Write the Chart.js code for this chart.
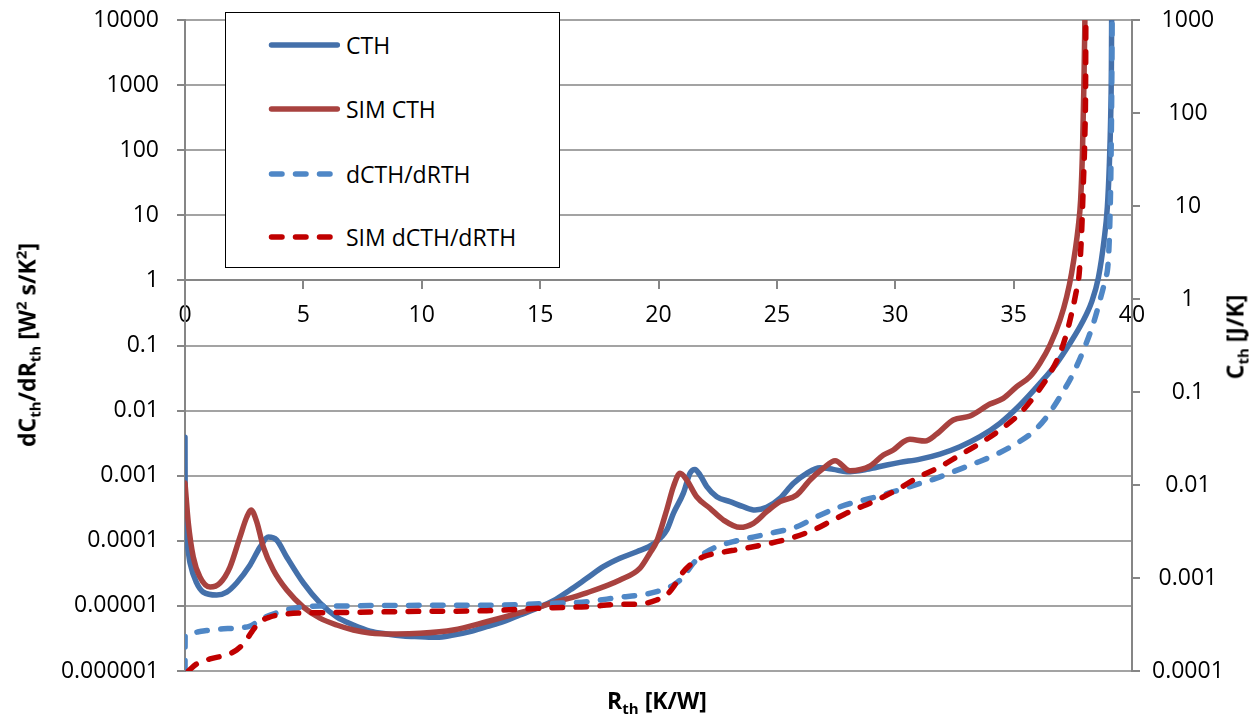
<!DOCTYPE html>
<html>
<head>
<meta charset="utf-8">
<script src="https://cdn.jsdelivr.net/npm/chart.js@4.4.1/dist/chart.umd.min.js"></script>
<style>
html,body{margin:0;padding:0;background:#fff;}
#wrap{position:relative;width:1254px;height:723px;overflow:hidden;font-family:'Open Sans',sans-serif;}
#c{position:absolute;left:0;top:0;}
.title{position:absolute;font-weight:bold;font-size:23px;white-space:nowrap;color:#000;line-height:1;}
.title .sb{font-size:15px;position:relative;top:5px;}
.title .sp{font-size:15px;position:relative;top:-9px;}
#legend{position:absolute;left:225px;top:12px;width:335px;height:256px;box-sizing:border-box;border:1.5px solid #000;background:#fff;}
.entry{position:absolute;left:40px;height:28px;display:flex;align-items:center;font-size:23px;color:#000;white-space:nowrap;}
.entry svg{margin-right:4px;}
</style>
</head>
<body>
<div id="wrap">
<canvas id="c" width="1254" height="723"></canvas>
<div id="legend"></div>
<div class="title" id="ytitle" style="left:27px;top:345px;transform:translate(-50%,-50%) rotate(-90deg);">dC<span class="sb">th</span>/dR<span class="sb">th</span> [W<span class="sp">2</span> s/K<span class="sp">2</span>]</div>
<div class="title" id="y2title" style="left:1235px;top:337px;transform:translate(-50%,-50%) rotate(-90deg);">C<span class="sb">th</span> [J/K]</div>
<div class="title" id="xtitle" style="left:657px;top:700px;transform:translate(-50%,-50%);">R<span class="sb">th</span> [K/W]</div>
</div>
<script>
// ---- axis ticks ----
const xTickValues = [0, 5, 10, 15, 20, 25, 30, 35, 40];
const xTickLabels = ['0', '5', '10', '15', '20', '25', '30', '35', '40'];
const leftTickValues = [1e-6, 1e-5, 1e-4, 1e-3, 1e-2, 1e-1, 1, 10, 100, 1000, 10000];
const leftTickLabels = ['0.000001', '0.00001', '0.0001', '0.001', '0.01', '0.1', '1', '10', '100', '1000', '10000'];
const rightTickValues = [1e-4, 1e-3, 1e-2, 1e-1, 1, 10, 100, 1000];
const rightTickLabels = ['0.0001', '0.001', '0.01', '0.1', '1', '10', '100', '1000'];

// ---- series labels ----
const seriesLabels = ['CTH', 'SIM CTH', 'dCTH/dRTH', 'SIM dCTH/dRTH'];

// ---- CTH (solid blue, left axis) ----
const cthX = [0, 0.01, 0.07, 0.21, 0.49, 0.77, 1.34, 1.76, 2.18, 2.75, 3.17, 3.52, 3.87, 4.30, 5.00, 5.70, 6.41, 7.11, 7.81, 8.52, 9.22, 9.93, 10.63, 11.33, 12.04, 12.74, 13.44, 14.15, 14.86, 15.56, 16.26, 16.97, 17.67, 18.37, 19.08, 19.78, 20.35, 20.63, 21.05, 21.33, 21.54, 21.75, 22.04, 22.46, 23.02, 23.58, 24.08, 24.57, 25.13, 25.69, 26.26, 26.82, 27.38, 27.95, 28.79, 29.64, 30.20, 31.05, 31.89, 32.73, 33.58, 34.42, 35.27, 36.11, 36.82, 37.38, 37.88, 38.30, 38.58, 38.82, 38.96, 39.04, 39.10, 39.13, 39.14];
const cthY = [3.9e-3, 2.7e-4, 1.0e-4, 4.6e-5, 2.25e-5, 1.63e-5, 1.47e-5, 1.63e-5, 2.25e-5, 4.25e-5, 8.0e-5, 1.14e-4, 1.03e-4, 5.6e-5, 2.25e-5, 1.11e-5, 6.75e-6, 5.09e-6, 4.11e-6, 3.70e-6, 3.45e-6, 3.37e-6, 3.30e-6, 3.57e-6, 4.02e-6, 4.79e-6, 5.71e-6, 7.24e-6, 9.18e-6, 1.20e-5, 1.75e-5, 2.65e-5, 4.00e-5, 5.38e-5, 6.80e-5, 8.93e-5, 1.47e-4, 2.64e-4, 5.4e-4, 1.09e-3, 1.25e-3, 1.03e-3, 6.8e-4, 4.75e-4, 4.0e-4, 3.34e-4, 2.97e-4, 3.27e-4, 4.5e-4, 7.6e-4, 1.09e-3, 1.33e-3, 1.25e-3, 1.15e-3, 1.25e-3, 1.46e-3, 1.6e-3, 1.8e-3, 2.15e-3, 2.79e-3, 3.97e-3, 6.38e-3, 1.22e-2, 2.62e-2, 5.33e-2, 0.108, 0.219, 0.471, 1.1, 4.18, 13.6, 55.8, 327, 1919, 10000];

// ---- SIM CTH (solid red, left axis) ----
const simCthX = [0, 0.14, 0.35, 0.63, 1.06, 1.48, 1.90, 2.32, 2.61, 2.79, 3.03, 3.31, 3.73, 4.30, 5.00, 5.70, 6.41, 7.11, 7.81, 8.94, 9.93, 11.33, 12.74, 14.15, 15.56, 16.97, 18.37, 19.22, 19.64, 19.92, 20.35, 20.63, 20.91, 21.19, 21.61, 22.17, 22.74, 23.44, 24.01, 24.57, 25.13, 25.84, 26.40, 26.96, 27.46, 28.09, 28.94, 29.50, 29.92, 30.34, 30.62, 31.26, 31.75, 32.45, 33.16, 34.00, 34.56, 35.13, 35.69, 36.11, 36.54, 36.96, 37.24, 37.45, 37.73, 37.83, 37.91, 37.97, 38.01];
const simCthY = [7.7e-4, 1.88e-4, 5.64e-5, 2.78e-5, 1.95e-5, 2.25e-5, 3.95e-5, 1.14e-4, 2.32e-4, 2.97e-4, 1.95e-4, 8.0e-5, 3.56e-5, 1.75e-5, 9.6e-6, 6.5e-6, 5.09e-6, 4.27e-6, 3.84e-6, 3.70e-6, 3.79e-6, 4.27e-6, 5.71e-6, 7.87e-6, 1.12e-5, 1.59e-5, 2.50e-5, 3.8e-5, 6.5e-5, 9.7e-5, 3.0e-4, 6.8e-4, 1.09e-3, 8.6e-4, 4.75e-4, 3.16e-4, 2.09e-4, 1.61e-4, 1.86e-4, 2.80e-4, 3.99e-4, 5.05e-4, 8.6e-4, 1.30e-3, 1.70e-3, 1.19e-3, 1.41e-3, 2.08e-3, 2.48e-3, 3.3e-3, 3.62e-3, 3.41e-3, 4.37e-3, 7.18e-3, 8.26e-3, 1.26e-2, 1.54e-2, 2.33e-2, 3.32e-2, 5.33e-2, 0.102, 0.247, 0.56, 1.3, 6.68, 17.2, 101, 1067, 10000];

// ---- dCTH/dRTH (dashed blue, right axis) ----
const dX = [0, 0.005, 0.21, 0.77, 1.48, 2.18, 2.75, 3.31, 3.87, 4.44, 5.00, 5.70, 6.41, 7.81, 9.93, 12.74, 15.56, 16.97, 18.37, 19.22, 19.92, 20.63, 21.05, 21.47, 21.89, 22.46, 23.16, 23.87, 24.85, 25.84, 26.68, 27.67, 28.37, 29.07, 29.92, 31.05, 31.61, 32.45, 33.44, 34.29, 35.13, 35.83, 36.40, 36.96, 37.52, 38.01, 38.37, 38.65, 38.86, 39.0, 39.07, 39.11, 39.14, 39.16];
const dY = [1.0e-4, 2.35e-4, 2.57e-4, 2.69e-4, 2.83e-4, 2.90e-4, 3.05e-4, 3.72e-4, 4.21e-4, 4.65e-4, 4.88e-4, 5.0e-4, 5.0e-4, 5.05e-4, 5.08e-4, 5.1e-4, 5.35e-4, 5.56e-4, 6.2e-4, 6.56e-4, 7.13e-4, 8.41e-4, 1.03e-3, 1.44e-3, 1.81e-3, 2.17e-3, 2.46e-3, 2.71e-3, 3.07e-3, 3.56e-3, 4.56e-3, 5.84e-3, 6.61e-3, 7.30e-3, 8.47e-3, 1.04e-2, 1.15e-2, 1.39e-2, 1.74e-2, 2.15e-2, 2.81e-2, 3.74e-2, 5.42e-2, 8.90e-2, 0.159, 0.307, 0.548, 0.976, 1.6, 2.63, 7.67, 26.5, 138, 1000];

// ---- SIM dCTH/dRTH (dashed red, right axis) ----
const simDX = [0.14, 0.49, 1.06, 1.76, 2.18, 2.53, 2.82, 3.10, 3.59, 4.30, 5.00, 6.41, 7.81, 9.93, 12.74, 15.56, 16.97, 18.37, 19.22, 19.92, 20.35, 20.63, 20.91, 21.33, 21.89, 22.60, 23.44, 24.57, 25.55, 26.54, 27.38, 28.23, 29.07, 29.92, 31.05, 31.89, 32.73, 33.58, 34.42, 35.27, 35.97, 36.54, 36.96, 37.24, 37.45, 37.63, 37.77, 37.87, 37.94, 38.01, 38.04, 38.05];
const simDY = [1.0e-4, 1.19e-4, 1.35e-4, 1.49e-4, 1.68e-4, 2.05e-4, 2.63e-4, 3.28e-4, 3.81e-4, 4.10e-4, 4.21e-4, 4.25e-4, 4.3e-4, 4.38e-4, 4.45e-4, 4.80e-4, 4.91e-4, 5.21e-4, 5.25e-4, 5.80e-4, 6.6e-4, 8.0e-4, 1.05e-3, 1.38e-3, 1.69e-3, 1.87e-3, 2.04e-3, 2.32e-3, 2.67e-3, 3.28e-3, 4.21e-3, 5.38e-3, 6.61e-3, 8.47e-3, 1.24e-2, 1.57e-2, 2.10e-2, 2.81e-2, 3.90e-2, 5.90e-2, 9.69e-2, 0.159, 0.261, 0.428, 0.702, 1.15, 1.89, 5.08, 16.1, 60.5, 208, 1000];

const seriesColors = ['#4470AA', '#A8423F', '#4F87C6', '#C00000'];

function toPts(xs, ys) { return xs.map((x, i) => ({ x: x, y: ys[i] })); }

Chart.defaults.font.family = "'Open Sans', sans-serif";
Chart.defaults.color = '#000';

const axisGray = '#868686';
const gridGray = '#A3A3A3';

function ds(i, xs, ys, axis, dashed, order) {
  return {
    label: seriesLabels[i],
    data: toPts(xs, ys),
    xAxisID: 'x',
    yAxisID: axis,
    borderColor: seriesColors[i],
    backgroundColor: seriesColors[i],
    borderWidth: 5.5,
    borderDash: dashed ? [10.5, 13.5] : [],
    borderCapStyle: 'round',
    borderJoinStyle: 'round',
    pointRadius: 0,
    pointHoverRadius: 0,
    cubicInterpolationMode: 'monotone',
    fill: false,
    order: order
  };
}

const chart = new Chart(document.getElementById('c'), {
  type: 'line',
  data: {
    datasets: [
      ds(0, cthX, cthY, 'y', false, 3),
      ds(1, simCthX, simCthY, 'y', false, 2),
      ds(2, dX, dY, 'y2', true, 1),
      ds(3, simDX, simDY, 'y2', true, 0)
    ]
  },
  options: {
    responsive: false,
    animation: false,
    devicePixelRatio: 1,
    layout: { padding: { left: 0, right: 0, top: 20, bottom: 52 } },
    plugins: { legend: { display: false }, tooltip: { enabled: false } },
    events: [],
    scales: {
      x: {
        type: 'linear',
        position: { y: 1 },
        min: 0, max: 40,
        afterBuildTicks: s => { s.ticks = xTickValues.map(v => ({ value: v })); },
        ticks: { callback: (v, i) => xTickLabels[i], font: { size: 23 }, color: '#000', padding: 13, autoSkip: false, maxRotation: 0 },
        grid: { drawOnChartArea: false, color: axisGray, lineWidth: 2, tickLength: 8, tickColor: axisGray },
        border: { display: true, color: axisGray, width: 2 }
      },
      y: {
        type: 'logarithmic',
        position: 'left',
        min: 1e-6, max: 1e4,
        afterBuildTicks: s => { s.ticks = leftTickValues.map(v => ({ value: v })); },
        afterFit: s => { s.width = 185; s.paddingTop = 0; s.paddingBottom = 0; },
        ticks: { callback: (v, i) => leftTickLabels[i], font: { size: 23 }, color: '#000', padding: 18, autoSkip: false },
        grid: { color: gridGray, lineWidth: 2, tickLength: 8, tickColor: axisGray },
        border: { display: true, color: axisGray, width: 2 }
      },
      y2: {
        type: 'logarithmic',
        position: 'right',
        min: 1e-4, max: 1e3,
        afterBuildTicks: s => { s.ticks = rightTickValues.map(v => ({ value: v })); },
        afterFit: s => { s.width = 122; s.paddingTop = 0; s.paddingBottom = 0; },
        ticks: { callback: (v, i) => rightTickLabels[i], font: { size: 23 }, color: '#000', padding: 12, crossAlign: 'center', autoSkip: false },
        grid: { drawOnChartArea: false, color: axisGray, lineWidth: 2, tickLength: 8, tickColor: axisGray },
        border: { display: true, color: axisGray, width: 2 }
      }
    }
  }
});

// ---- legend (HTML, built from the datasets) ----
const legendCenters = [32, 96, 160.5, 224];
const legendEl = document.getElementById('legend');
chart.data.datasets.forEach((d, i) => {
  const e = document.createElement('div');
  e.className = 'entry';
  e.style.top = (legendCenters[i] - 14) + 'px';
  const dashed = d.borderDash && d.borderDash.length;
  const line = dashed
    ? `<line x1="5.5" y1="6" x2="64" y2="6" stroke="${d.borderColor}" stroke-width="5.5" stroke-linecap="round" stroke-dasharray="10.5 13.5"/>`
    : `<line x1="5.5" y1="6" x2="71.3" y2="6" stroke="${d.borderColor}" stroke-width="5.5" stroke-linecap="round"/>`;
  e.innerHTML = `<svg width="76" height="12" style="display:block">${line}</svg><span>${d.label}</span>`;
  legendEl.appendChild(e);
});
</script>
</body>
</html>
